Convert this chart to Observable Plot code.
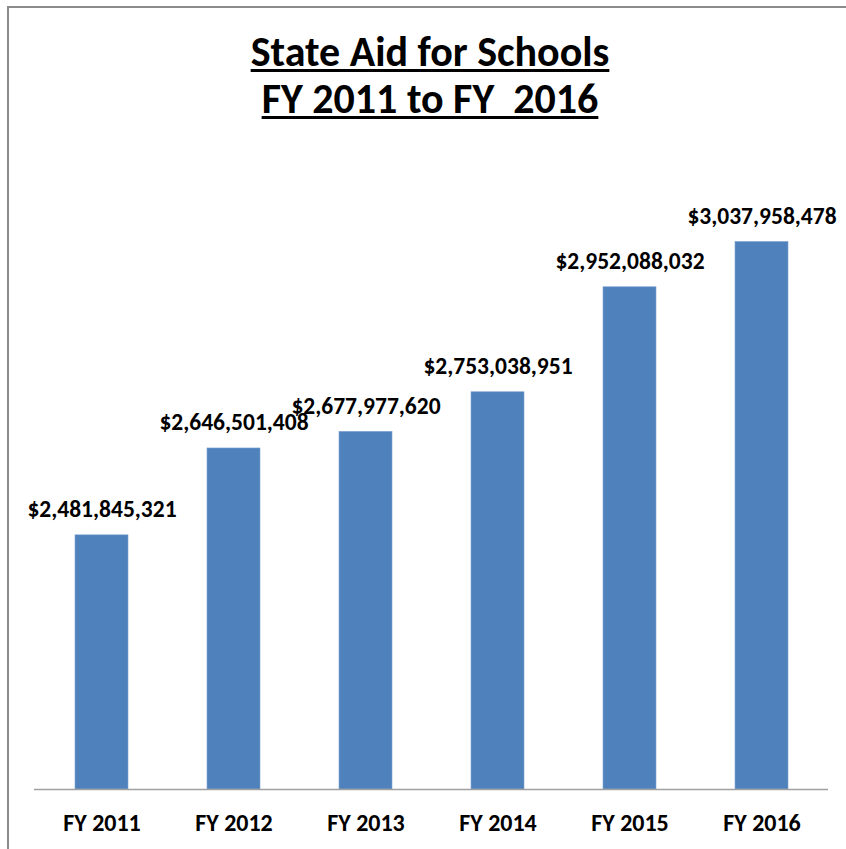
<!DOCTYPE html>
<html>
<head>
<meta charset="utf-8">
<script src="https://cdn.jsdelivr.net/npm/d3@7"></script>
<script src="https://cdn.jsdelivr.net/npm/@observablehq/plot@0.6"></script>
<style>
  html, body { margin: 0; padding: 0; background: #fff; }
  #wrap { position: relative; width: 846px; height: 849px; overflow: hidden; font-family: Carlito, Calibri, Lato, sans-serif; }
  #bt { position: absolute; left: 7px; top: 6px; width: 839px; height: 2px; background: #8c8c8c; }
  #bl { position: absolute; left: 7px; top: 6px; width: 2px; height: 843px; background: #8c8c8c; }
  #title { position: absolute; left: 0; top: 28px; width: 860px; text-align: center; font-weight: 700; font-size: 42px; line-height: 47px; color: #000; }
  #title span { text-decoration: underline; text-decoration-thickness: 2.5px; text-underline-offset: 3px; }
  #chart { position: absolute; left: 0; top: 140px; }
</style>
</head>
<body>
<div id="wrap">
  <div id="bt"></div>
  <div id="bl"></div>
  <div id="title"><span>State Aid for Schools</span><br><span>FY 2011 to FY&nbsp; 2016</span></div>
  <div id="chart"></div>
</div>
<script>
const years = ["FY 2011", "FY 2012", "FY 2013", "FY 2014", "FY 2015", "FY 2016"];
const aid = [2481845321, 2646501408, 2677977620, 2753038951, 2952088032, 3037958478];
const yDomain = [2000000000, 3200000000];

const data = years.map((y, i) => ({year: y, value: aid[i]}));
const fmt = d3.format("$,");

const plot = Plot.plot({
  width: 846,
  height: 709,
  marginTop: 16,
  marginBottom: 60,
  marginLeft: 34,
  marginRight: 18,
  style: {fontFamily: "Carlito, Calibri, Lato, sans-serif", background: "transparent"},
  x: {domain: years, paddingInner: 0.6, paddingOuter: 0.3, label: null},
  y: {domain: yDomain, axis: null},
  marks: [
    Plot.barY(data, {x: "year", y1: yDomain[0], y2: "value", fill: "#4F81BD", stroke: "#7FA3D1", strokeWidth: 0.6}),
    Plot.ruleY([yDomain[0]], {stroke: "#a0a0a0", strokeWidth: 1.5}),
    Plot.text(data, {x: "year", y: "value", text: d => fmt(d.value), lineAnchor: "bottom", dy: -18, fontSize: 23.5, fontWeight: 700, fill: "#000"}),
    Plot.axisX({tickSize: 0, tickPadding: 24, fontSize: 24, fontWeight: 700, fill: "#000", label: null})
  ]
});
document.getElementById("chart").appendChild(plot);
</script>
</body>
</html>
